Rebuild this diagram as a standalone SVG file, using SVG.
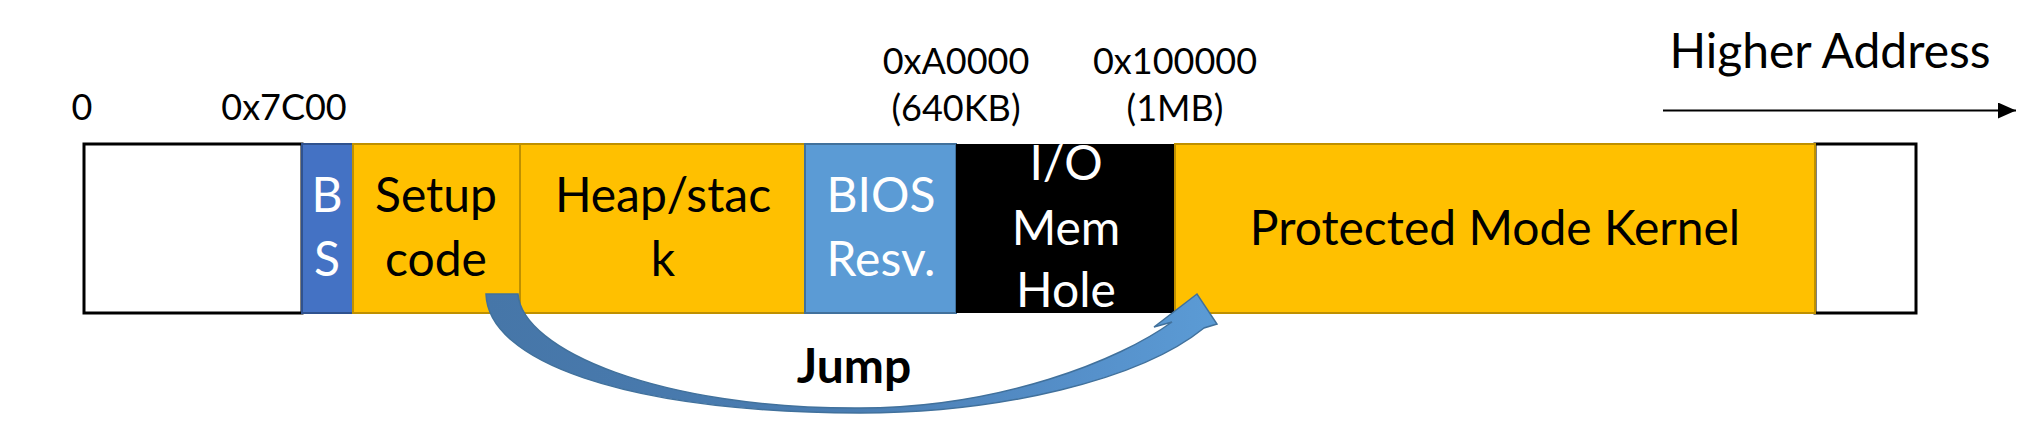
<svg xmlns="http://www.w3.org/2000/svg" width="2042" height="442" viewBox="0 0 2042 442">
<style>
text{font-family:Lato,"Liberation Sans",sans-serif;text-anchor:middle}
.lbl{font-size:36px;fill:#000}
.main{font-size:48px;fill:#000}
.wt{fill:#fff}
.empty{fill:#fff;stroke:#000;stroke-width:3}
.gold{fill:#FFC000;stroke:#BF9000;stroke-width:2}
.bs{fill:#4472C4;stroke:#2F528F;stroke-width:2}
.bios{fill:#5B9BD5;stroke:#41719C;stroke-width:2}
.hole{fill:#000}
</style>
<defs>
<marker id="tri" markerUnits="userSpaceOnUse" markerWidth="20" markerHeight="18" refX="18" refY="8" orient="auto">
<polygon points="0,0 18,8 0,16" fill="#000"/>
</marker>
<linearGradient id="jg" gradientUnits="userSpaceOnUse" x1="486" y1="0" x2="1217" y2="0">
<stop offset="0" stop-color="#4676A8"/>
<stop offset="0.5" stop-color="#4A7DB2"/>
<stop offset="0.8" stop-color="#558FC9"/>
<stop offset="1" stop-color="#5B9BD5"/>
</linearGradient>
</defs>
<g id="labels">
<text class="lbl" x="82" y="120">0</text>
<text class="lbl" x="284" y="120">0x7C00</text>
<text class="lbl" x="956" y="74">0xA0000</text>
<text class="lbl" x="956" y="121">(640KB)</text>
<text class="lbl" x="1175" y="74">0x100000</text>
<text class="lbl" x="1175" y="121">(1MB)</text>
</g>
<g id="higher-address">
<text class="main" x="1830" y="68">Higher Address</text>
</g>
<g id="low-empty"><rect class="empty" x="84" y="144" width="218" height="169"/></g>
<g id="high-empty"><rect class="empty" x="1815" y="144" width="101" height="169"/></g>
<g id="bs">
<rect class="bs" x="302" y="144" width="51" height="169"/>
<text class="main wt" x="327" y="212">B</text>
<text class="main wt" x="327" y="276">S</text>
</g>
<g id="setup">
<rect class="gold" x="353" y="144" width="167" height="169"/>
<text class="main" x="436" y="212">Setup</text>
<text class="main" x="436" y="276">code</text>
</g>
<g id="heap">
<rect class="gold" x="520" y="144" width="285" height="169"/>
<text class="main" x="663" y="212">Heap/stac</text>
<text class="main" x="663" y="276">k</text>
</g>
<g id="bios">
<rect class="bios" x="805" y="144" width="151" height="169"/>
<text class="main wt" x="881" y="212">BIOS</text>
<text class="main wt" x="881" y="276">Resv.</text>
</g>
<g id="io-hole">
<rect class="hole" x="956" y="144" width="219" height="169"/>
<text class="main wt" x="1066" y="180">I/O</text>
<text class="main wt" x="1066" y="245">Mem</text>
<text class="main wt" x="1066" y="307">Hole</text>
</g>
<g id="kernel">
<rect class="gold" x="1175" y="144" width="640" height="169"/>
<text class="main" x="1495" y="245">Protected Mode Kernel</text>
</g>
<g id="connectors">
<line x1="1663" y1="110.5" x2="2016" y2="110.5" stroke="#000" stroke-width="2" marker-end="url(#tri)"/>
<path d="M486,294 C488,360 620,412 860,413 C1000,413 1140,380 1204,328 L1217,324 L1197,294 L1154,327 L1172,322 C1120,360 1000,408 860,408 C660,409 522,350 518,294 Z" fill="url(#jg)" stroke="#41719C" stroke-width="1.5" stroke-linejoin="miter"/>
<text x="854" y="383" style="font-size:48px;font-weight:bold">Jump</text>
</g>
</svg>
